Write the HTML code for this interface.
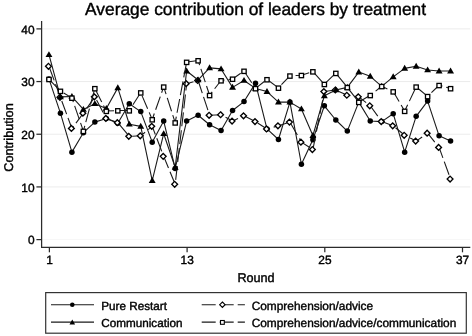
<!DOCTYPE html>
<html><head><meta charset="utf-8"><title>Average contribution of leaders by treatment</title>
<style>html,body{margin:0;padding:0;background:#fff}svg{display:block}svg{will-change:transform;opacity:.999}text{font-family:"Liberation Sans",Arial,Helvetica,sans-serif;fill:#000;stroke:#000;stroke-width:.4px;text-rendering:geometricPrecision}</style>
</head><body>
<svg width="472" height="336" viewBox="0 0 472 336">
<rect width="472" height="336" fill="#fff"/>
<line x1="42" x2="470.3" y1="239.60" y2="239.60" stroke="#f7f7f7" stroke-width="1"/>
<line x1="42" x2="470.3" y1="186.92" y2="186.92" stroke="#ececec" stroke-width="1"/>
<line x1="42" x2="470.3" y1="134.24" y2="134.24" stroke="#ececec" stroke-width="1"/>
<line x1="42" x2="470.3" y1="81.56" y2="81.56" stroke="#ececec" stroke-width="1"/>
<line x1="42" x2="470.3" y1="28.88" y2="28.88" stroke="#ececec" stroke-width="1"/>
<text x="255.6" y="14.9" font-size="17.35" text-anchor="middle">Average contribution of leaders by treatment</text>
<polyline points="48.95,78.93 60.43,113.17 71.90,152.15 83.38,132.66 94.85,122.12 106.33,118.44 117.80,123.18 129.28,103.69 140.75,111.59 152.22,142.14 163.70,121.07 175.18,168.48 186.65,121.07 198.12,115.28 209.60,124.76 221.07,130.55 232.55,110.53 244.02,101.58 255.50,83.14 266.98,128.97 278.45,139.51 289.93,102.11 301.40,164.27 312.88,139.77 324.35,105.79 335.82,120.02 347.30,131.08 358.77,102.11 370.25,121.07 381.72,121.60 393.20,113.69 404.67,152.15 416.15,116.33 427.62,101.05 439.10,135.82 450.57,141.09" fill="none" stroke="#1a1a1a" stroke-width="1.1" stroke-linejoin="round"/>
<circle cx="48.95" cy="78.93" r="2.75" fill="#000"/>
<circle cx="60.43" cy="113.17" r="2.75" fill="#000"/>
<circle cx="71.90" cy="152.15" r="2.75" fill="#000"/>
<circle cx="83.38" cy="132.66" r="2.75" fill="#000"/>
<circle cx="94.85" cy="122.12" r="2.75" fill="#000"/>
<circle cx="106.33" cy="118.44" r="2.75" fill="#000"/>
<circle cx="117.80" cy="123.18" r="2.75" fill="#000"/>
<circle cx="129.28" cy="103.69" r="2.75" fill="#000"/>
<circle cx="140.75" cy="111.59" r="2.75" fill="#000"/>
<circle cx="152.22" cy="142.14" r="2.75" fill="#000"/>
<circle cx="163.70" cy="121.07" r="2.75" fill="#000"/>
<circle cx="175.18" cy="168.48" r="2.75" fill="#000"/>
<circle cx="186.65" cy="121.07" r="2.75" fill="#000"/>
<circle cx="198.12" cy="115.28" r="2.75" fill="#000"/>
<circle cx="209.60" cy="124.76" r="2.75" fill="#000"/>
<circle cx="221.07" cy="130.55" r="2.75" fill="#000"/>
<circle cx="232.55" cy="110.53" r="2.75" fill="#000"/>
<circle cx="244.02" cy="101.58" r="2.75" fill="#000"/>
<circle cx="255.50" cy="83.14" r="2.75" fill="#000"/>
<circle cx="266.98" cy="128.97" r="2.75" fill="#000"/>
<circle cx="278.45" cy="139.51" r="2.75" fill="#000"/>
<circle cx="289.93" cy="102.11" r="2.75" fill="#000"/>
<circle cx="301.40" cy="164.27" r="2.75" fill="#000"/>
<circle cx="312.88" cy="139.77" r="2.75" fill="#000"/>
<circle cx="324.35" cy="105.79" r="2.75" fill="#000"/>
<circle cx="335.82" cy="120.02" r="2.75" fill="#000"/>
<circle cx="347.30" cy="131.08" r="2.75" fill="#000"/>
<circle cx="358.77" cy="102.11" r="2.75" fill="#000"/>
<circle cx="370.25" cy="121.07" r="2.75" fill="#000"/>
<circle cx="381.72" cy="121.60" r="2.75" fill="#000"/>
<circle cx="393.20" cy="113.69" r="2.75" fill="#000"/>
<circle cx="404.67" cy="152.15" r="2.75" fill="#000"/>
<circle cx="416.15" cy="116.33" r="2.75" fill="#000"/>
<circle cx="427.62" cy="101.05" r="2.75" fill="#000"/>
<circle cx="439.10" cy="135.82" r="2.75" fill="#000"/>
<circle cx="450.57" cy="141.09" r="2.75" fill="#000"/>
<polyline points="48.95,66.28 60.43,97.36 71.90,128.45 83.38,113.17 94.85,96.84 106.33,118.44 117.80,122.65 129.28,136.35 140.75,135.82 152.22,126.34 163.70,156.37 175.18,184.29 186.65,83.67 198.12,80.51 209.60,115.28 221.07,114.75 232.55,121.07 244.02,115.80 255.50,121.60 266.98,128.97 278.45,125.81 289.93,122.12 301.40,142.14 312.88,149.52 324.35,91.57 335.82,89.99 347.30,95.26 358.77,96.84 370.25,105.79 381.72,121.60 393.20,125.81 404.67,135.29 416.15,141.09 427.62,133.19 439.10,147.41 450.57,179.02" fill="none" stroke="#1a1a1a" stroke-width="1.1" stroke-linejoin="round" stroke-dasharray="14 4" stroke-dashoffset="17"/>
<path d="M48.45,63.38 L51.35,66.28 L48.45,69.18 L45.55,66.28Z" fill="#fff" stroke="#000" stroke-width="1.35"/>
<path d="M59.93,94.46 L62.83,97.36 L59.93,100.26 L57.03,97.36Z" fill="#fff" stroke="#000" stroke-width="1.35"/>
<path d="M71.40,125.55 L74.30,128.45 L71.40,131.35 L68.50,128.45Z" fill="#fff" stroke="#000" stroke-width="1.35"/>
<path d="M82.88,110.27 L85.78,113.17 L82.88,116.07 L79.97,113.17Z" fill="#fff" stroke="#000" stroke-width="1.35"/>
<path d="M94.35,93.94 L97.25,96.84 L94.35,99.74 L91.45,96.84Z" fill="#fff" stroke="#000" stroke-width="1.35"/>
<path d="M105.83,115.54 L108.73,118.44 L105.83,121.34 L102.92,118.44Z" fill="#fff" stroke="#000" stroke-width="1.35"/>
<path d="M117.30,119.75 L120.20,122.65 L117.30,125.55 L114.40,122.65Z" fill="#fff" stroke="#000" stroke-width="1.35"/>
<path d="M128.78,133.45 L131.68,136.35 L128.78,139.25 L125.88,136.35Z" fill="#fff" stroke="#000" stroke-width="1.35"/>
<path d="M140.25,132.92 L143.15,135.82 L140.25,138.72 L137.35,135.82Z" fill="#fff" stroke="#000" stroke-width="1.35"/>
<path d="M151.72,123.44 L154.62,126.34 L151.72,129.24 L148.82,126.34Z" fill="#fff" stroke="#000" stroke-width="1.35"/>
<path d="M163.20,153.47 L166.10,156.37 L163.20,159.27 L160.30,156.37Z" fill="#fff" stroke="#000" stroke-width="1.35"/>
<path d="M174.68,181.39 L177.58,184.29 L174.68,187.19 L171.78,184.29Z" fill="#fff" stroke="#000" stroke-width="1.35"/>
<path d="M186.15,80.77 L189.05,83.67 L186.15,86.57 L183.25,83.67Z" fill="#fff" stroke="#000" stroke-width="1.35"/>
<path d="M197.62,77.61 L200.53,80.51 L197.62,83.41 L194.72,80.51Z" fill="#fff" stroke="#000" stroke-width="1.35"/>
<path d="M209.10,112.38 L212.00,115.28 L209.10,118.18 L206.20,115.28Z" fill="#fff" stroke="#000" stroke-width="1.35"/>
<path d="M220.57,111.85 L223.47,114.75 L220.57,117.65 L217.67,114.75Z" fill="#fff" stroke="#000" stroke-width="1.35"/>
<path d="M232.05,118.17 L234.95,121.07 L232.05,123.97 L229.15,121.07Z" fill="#fff" stroke="#000" stroke-width="1.35"/>
<path d="M243.52,112.90 L246.42,115.80 L243.52,118.70 L240.62,115.80Z" fill="#fff" stroke="#000" stroke-width="1.35"/>
<path d="M255.00,118.70 L257.90,121.60 L255.00,124.50 L252.10,121.60Z" fill="#fff" stroke="#000" stroke-width="1.35"/>
<path d="M266.48,126.07 L269.38,128.97 L266.48,131.87 L263.58,128.97Z" fill="#fff" stroke="#000" stroke-width="1.35"/>
<path d="M277.95,122.91 L280.85,125.81 L277.95,128.71 L275.05,125.81Z" fill="#fff" stroke="#000" stroke-width="1.35"/>
<path d="M289.43,119.22 L292.32,122.12 L289.43,125.02 L286.53,122.12Z" fill="#fff" stroke="#000" stroke-width="1.35"/>
<path d="M300.90,139.24 L303.80,142.14 L300.90,145.04 L298.00,142.14Z" fill="#fff" stroke="#000" stroke-width="1.35"/>
<path d="M312.38,146.62 L315.27,149.52 L312.38,152.42 L309.48,149.52Z" fill="#fff" stroke="#000" stroke-width="1.35"/>
<path d="M323.85,88.67 L326.75,91.57 L323.85,94.47 L320.95,91.57Z" fill="#fff" stroke="#000" stroke-width="1.35"/>
<path d="M335.32,87.09 L338.22,89.99 L335.32,92.89 L332.43,89.99Z" fill="#fff" stroke="#000" stroke-width="1.35"/>
<path d="M346.80,92.36 L349.70,95.26 L346.80,98.16 L343.90,95.26Z" fill="#fff" stroke="#000" stroke-width="1.35"/>
<path d="M358.27,93.94 L361.17,96.84 L358.27,99.74 L355.38,96.84Z" fill="#fff" stroke="#000" stroke-width="1.35"/>
<path d="M369.75,102.89 L372.65,105.79 L369.75,108.69 L366.85,105.79Z" fill="#fff" stroke="#000" stroke-width="1.35"/>
<path d="M381.22,118.70 L384.12,121.60 L381.22,124.50 L378.32,121.60Z" fill="#fff" stroke="#000" stroke-width="1.35"/>
<path d="M392.70,122.91 L395.60,125.81 L392.70,128.71 L389.80,125.81Z" fill="#fff" stroke="#000" stroke-width="1.35"/>
<path d="M404.17,132.39 L407.07,135.29 L404.17,138.19 L401.27,135.29Z" fill="#fff" stroke="#000" stroke-width="1.35"/>
<path d="M415.65,138.19 L418.55,141.09 L415.65,143.99 L412.75,141.09Z" fill="#fff" stroke="#000" stroke-width="1.35"/>
<path d="M427.12,130.29 L430.02,133.19 L427.12,136.09 L424.23,133.19Z" fill="#fff" stroke="#000" stroke-width="1.35"/>
<path d="M438.60,144.51 L441.50,147.41 L438.60,150.31 L435.70,147.41Z" fill="#fff" stroke="#000" stroke-width="1.35"/>
<path d="M450.07,176.12 L452.97,179.02 L450.07,181.92 L447.18,179.02Z" fill="#fff" stroke="#000" stroke-width="1.35"/>
<polyline points="48.95,54.69 60.43,96.84 71.90,96.57 83.38,109.48 94.85,103.69 106.33,108.43 117.80,87.88 129.28,124.23 140.75,126.34 152.22,180.60 163.70,133.71 175.18,167.43 186.65,71.02 198.12,79.98 209.60,67.86 221.07,68.92 232.55,87.35 244.02,80.51 255.50,88.41 266.98,91.57 278.45,102.11 289.93,102.11 301.40,108.95 312.88,135.56 324.35,95.78 335.82,89.99 347.30,87.35 358.77,72.08 370.25,76.29 381.72,86.30 393.20,76.82 404.67,68.39 416.15,66.28 427.62,69.97 439.10,71.02 450.57,71.02" fill="none" stroke="#1a1a1a" stroke-width="1.1" stroke-linejoin="round"/>
<path d="M48.95,51.16 L52.40,57.06 L45.50,57.06Z" fill="#000"/>
<path d="M60.43,93.30 L63.88,99.20 L56.98,99.20Z" fill="#000"/>
<path d="M71.90,93.04 L75.35,98.94 L68.45,98.94Z" fill="#000"/>
<path d="M83.38,105.95 L86.83,111.85 L79.92,111.85Z" fill="#000"/>
<path d="M94.85,100.15 L98.30,106.05 L91.40,106.05Z" fill="#000"/>
<path d="M106.33,104.89 L109.78,110.79 L102.88,110.79Z" fill="#000"/>
<path d="M117.80,84.35 L121.25,90.25 L114.35,90.25Z" fill="#000"/>
<path d="M129.28,120.70 L132.72,126.60 L125.83,126.60Z" fill="#000"/>
<path d="M140.75,122.80 L144.20,128.70 L137.30,128.70Z" fill="#000"/>
<path d="M152.22,177.07 L155.67,182.97 L148.78,182.97Z" fill="#000"/>
<path d="M163.70,130.18 L167.15,136.08 L160.25,136.08Z" fill="#000"/>
<path d="M175.18,163.90 L178.62,169.80 L171.73,169.80Z" fill="#000"/>
<path d="M186.65,67.49 L190.10,73.39 L183.20,73.39Z" fill="#000"/>
<path d="M198.12,76.45 L201.57,82.35 L194.68,82.35Z" fill="#000"/>
<path d="M209.60,64.33 L213.05,70.23 L206.15,70.23Z" fill="#000"/>
<path d="M221.07,65.38 L224.52,71.28 L217.62,71.28Z" fill="#000"/>
<path d="M232.55,83.82 L236.00,89.72 L229.10,89.72Z" fill="#000"/>
<path d="M244.02,76.97 L247.47,82.87 L240.57,82.87Z" fill="#000"/>
<path d="M255.50,84.88 L258.95,90.78 L252.05,90.78Z" fill="#000"/>
<path d="M266.98,88.04 L270.43,93.94 L263.53,93.94Z" fill="#000"/>
<path d="M278.45,98.57 L281.90,104.47 L275.00,104.47Z" fill="#000"/>
<path d="M289.93,98.57 L293.38,104.47 L286.48,104.47Z" fill="#000"/>
<path d="M301.40,105.42 L304.85,111.32 L297.95,111.32Z" fill="#000"/>
<path d="M312.88,132.02 L316.32,137.92 L309.43,137.92Z" fill="#000"/>
<path d="M324.35,92.25 L327.80,98.15 L320.90,98.15Z" fill="#000"/>
<path d="M335.82,86.46 L339.27,92.36 L332.38,92.36Z" fill="#000"/>
<path d="M347.30,83.82 L350.75,89.72 L343.85,89.72Z" fill="#000"/>
<path d="M358.77,68.54 L362.22,74.44 L355.32,74.44Z" fill="#000"/>
<path d="M370.25,72.76 L373.70,78.66 L366.80,78.66Z" fill="#000"/>
<path d="M381.72,82.77 L385.17,88.67 L378.27,88.67Z" fill="#000"/>
<path d="M393.20,73.29 L396.65,79.19 L389.75,79.19Z" fill="#000"/>
<path d="M404.67,64.86 L408.12,70.76 L401.22,70.76Z" fill="#000"/>
<path d="M416.15,62.75 L419.60,68.65 L412.70,68.65Z" fill="#000"/>
<path d="M427.62,66.44 L431.07,72.34 L424.18,72.34Z" fill="#000"/>
<path d="M439.10,67.49 L442.55,73.39 L435.65,73.39Z" fill="#000"/>
<path d="M450.57,67.49 L454.02,73.39 L447.12,73.39Z" fill="#000"/>
<polyline points="48.95,79.19 60.43,91.04 71.90,97.89 83.38,131.08 94.85,88.41 106.33,111.06 117.80,110.53 129.28,110.53 140.75,92.62 152.22,119.49 163.70,86.83 175.18,122.65 186.65,62.07 198.12,60.49 209.60,95.26 221.07,80.51 232.55,78.93 244.02,71.02 255.50,88.41 266.98,79.45 278.45,87.88 289.93,75.77 301.40,75.24 312.88,71.55 324.35,84.19 335.82,73.13 347.30,87.35 358.77,102.11 370.25,95.26 381.72,86.30 393.20,91.57 404.67,111.06 416.15,86.83 427.62,96.31 439.10,85.25 450.57,88.41" fill="none" stroke="#1a1a1a" stroke-width="1.1" stroke-linejoin="round" stroke-dasharray="14 4" stroke-dashoffset="15.7"/>
<rect x="46.80" y="77.34" width="4.3" height="4.3" fill="#fff" stroke="#000" stroke-width="1.3"/>
<rect x="58.28" y="89.19" width="4.3" height="4.3" fill="#fff" stroke="#000" stroke-width="1.3"/>
<rect x="69.75" y="96.04" width="4.3" height="4.3" fill="#fff" stroke="#000" stroke-width="1.3"/>
<rect x="81.22" y="129.23" width="4.3" height="4.3" fill="#fff" stroke="#000" stroke-width="1.3"/>
<rect x="92.70" y="86.56" width="4.3" height="4.3" fill="#fff" stroke="#000" stroke-width="1.3"/>
<rect x="104.17" y="109.21" width="4.3" height="4.3" fill="#fff" stroke="#000" stroke-width="1.3"/>
<rect x="115.65" y="108.68" width="4.3" height="4.3" fill="#fff" stroke="#000" stroke-width="1.3"/>
<rect x="127.12" y="108.68" width="4.3" height="4.3" fill="#fff" stroke="#000" stroke-width="1.3"/>
<rect x="138.60" y="90.77" width="4.3" height="4.3" fill="#fff" stroke="#000" stroke-width="1.3"/>
<rect x="150.07" y="117.64" width="4.3" height="4.3" fill="#fff" stroke="#000" stroke-width="1.3"/>
<rect x="161.55" y="84.98" width="4.3" height="4.3" fill="#fff" stroke="#000" stroke-width="1.3"/>
<rect x="173.03" y="120.80" width="4.3" height="4.3" fill="#fff" stroke="#000" stroke-width="1.3"/>
<rect x="184.50" y="60.22" width="4.3" height="4.3" fill="#fff" stroke="#000" stroke-width="1.3"/>
<rect x="195.97" y="58.64" width="4.3" height="4.3" fill="#fff" stroke="#000" stroke-width="1.3"/>
<rect x="207.45" y="93.41" width="4.3" height="4.3" fill="#fff" stroke="#000" stroke-width="1.3"/>
<rect x="218.92" y="78.66" width="4.3" height="4.3" fill="#fff" stroke="#000" stroke-width="1.3"/>
<rect x="230.40" y="77.08" width="4.3" height="4.3" fill="#fff" stroke="#000" stroke-width="1.3"/>
<rect x="241.87" y="69.17" width="4.3" height="4.3" fill="#fff" stroke="#000" stroke-width="1.3"/>
<rect x="253.35" y="86.56" width="4.3" height="4.3" fill="#fff" stroke="#000" stroke-width="1.3"/>
<rect x="264.83" y="77.60" width="4.3" height="4.3" fill="#fff" stroke="#000" stroke-width="1.3"/>
<rect x="276.30" y="86.03" width="4.3" height="4.3" fill="#fff" stroke="#000" stroke-width="1.3"/>
<rect x="287.78" y="73.92" width="4.3" height="4.3" fill="#fff" stroke="#000" stroke-width="1.3"/>
<rect x="299.25" y="73.39" width="4.3" height="4.3" fill="#fff" stroke="#000" stroke-width="1.3"/>
<rect x="310.73" y="69.70" width="4.3" height="4.3" fill="#fff" stroke="#000" stroke-width="1.3"/>
<rect x="322.20" y="82.34" width="4.3" height="4.3" fill="#fff" stroke="#000" stroke-width="1.3"/>
<rect x="333.68" y="71.28" width="4.3" height="4.3" fill="#fff" stroke="#000" stroke-width="1.3"/>
<rect x="345.15" y="85.50" width="4.3" height="4.3" fill="#fff" stroke="#000" stroke-width="1.3"/>
<rect x="356.62" y="100.26" width="4.3" height="4.3" fill="#fff" stroke="#000" stroke-width="1.3"/>
<rect x="368.10" y="93.41" width="4.3" height="4.3" fill="#fff" stroke="#000" stroke-width="1.3"/>
<rect x="379.57" y="84.45" width="4.3" height="4.3" fill="#fff" stroke="#000" stroke-width="1.3"/>
<rect x="391.05" y="89.72" width="4.3" height="4.3" fill="#fff" stroke="#000" stroke-width="1.3"/>
<rect x="402.52" y="109.21" width="4.3" height="4.3" fill="#fff" stroke="#000" stroke-width="1.3"/>
<rect x="414.00" y="84.98" width="4.3" height="4.3" fill="#fff" stroke="#000" stroke-width="1.3"/>
<rect x="425.48" y="94.46" width="4.3" height="4.3" fill="#fff" stroke="#000" stroke-width="1.3"/>
<rect x="436.95" y="83.40" width="4.3" height="4.3" fill="#fff" stroke="#000" stroke-width="1.3"/>
<rect x="448.43" y="86.56" width="4.3" height="4.3" fill="#fff" stroke="#000" stroke-width="1.3"/>
<path d="M41.6,21.1 V247.4 H470.3" fill="none" stroke="#2b2b2b" stroke-width="1.25"/>
<line x1="36.4" x2="41.6" y1="239.60" y2="239.60" stroke="#2b2b2b" stroke-width="1.25"/>
<text x="34.5" y="244.30" font-size="11.9" text-anchor="end">0</text>
<line x1="36.4" x2="41.6" y1="186.92" y2="186.92" stroke="#2b2b2b" stroke-width="1.25"/>
<text x="34.5" y="191.62" font-size="11.9" text-anchor="end">10</text>
<line x1="36.4" x2="41.6" y1="134.24" y2="134.24" stroke="#2b2b2b" stroke-width="1.25"/>
<text x="34.5" y="138.94" font-size="11.9" text-anchor="end">20</text>
<line x1="36.4" x2="41.6" y1="81.56" y2="81.56" stroke="#2b2b2b" stroke-width="1.25"/>
<text x="34.5" y="86.26" font-size="11.9" text-anchor="end">30</text>
<line x1="36.4" x2="41.6" y1="28.88" y2="28.88" stroke="#2b2b2b" stroke-width="1.25"/>
<text x="34.5" y="33.58" font-size="11.9" text-anchor="end">40</text>
<line x1="49.40" x2="49.40" y1="247.4" y2="252.3" stroke="#2b2b2b" stroke-width="1.25"/>
<text x="49.50" y="264.4" font-size="11.9" text-anchor="middle">1</text>
<line x1="187.10" x2="187.10" y1="247.4" y2="252.3" stroke="#2b2b2b" stroke-width="1.25"/>
<text x="187.20" y="264.4" font-size="11.9" text-anchor="middle">13</text>
<line x1="324.80" x2="324.80" y1="247.4" y2="252.3" stroke="#2b2b2b" stroke-width="1.25"/>
<text x="324.90" y="264.4" font-size="11.9" text-anchor="middle">25</text>
<line x1="462.50" x2="462.50" y1="247.4" y2="252.3" stroke="#2b2b2b" stroke-width="1.25"/>
<text x="462.60" y="264.4" font-size="11.9" text-anchor="middle">37</text>
<text x="256.0" y="282.2" font-size="12.65" text-anchor="middle">Round</text>
<text transform="translate(12.7,137.5) rotate(-90)" font-size="12.7" text-anchor="middle">Contribution</text>
<rect x="45.7" y="292.6" width="420.6" height="40.6" fill="#fff" stroke="#333" stroke-width="1.2"/>
<line x1="51" x2="94" y1="304.7" y2="304.7" stroke="#1a1a1a" stroke-width="1.1"/>
<circle cx="72.30" cy="304.70" r="2.3" fill="#000"/>
<line x1="51" x2="94" y1="322.1" y2="322.1" stroke="#1a1a1a" stroke-width="1.1"/>
<path d="M72.30,319.60 L75.10,324.40 L69.50,324.40Z" fill="#000"/>
<line x1="201.7" x2="244.9" y1="304.7" y2="304.7" stroke="#1a1a1a" stroke-width="1.1" stroke-dasharray="14 4"/>
<path d="M222.40,302.00 L225.10,304.70 L222.40,307.40 L219.70,304.70Z" fill="#fff" stroke="#000" stroke-width="1.1"/>
<line x1="201.7" x2="244.9" y1="322.1" y2="322.1" stroke="#1a1a1a" stroke-width="1.1" stroke-dasharray="14 4"/>
<rect x="220.50" y="320.50" width="3.8" height="3.8" fill="#fff" stroke="#000" stroke-width="1.1"/>
<text x="101.3" y="309.6" font-size="11.7">Pure Restart</text>
<text x="101.3" y="327.0" font-size="11.7">Communication</text>
<text x="251.7" y="309.6" font-size="11.88">Comprehension/advice</text>
<text x="251.7" y="327.0" font-size="11.88">Comprehension/advice/communication</text>
</svg></body></html>
